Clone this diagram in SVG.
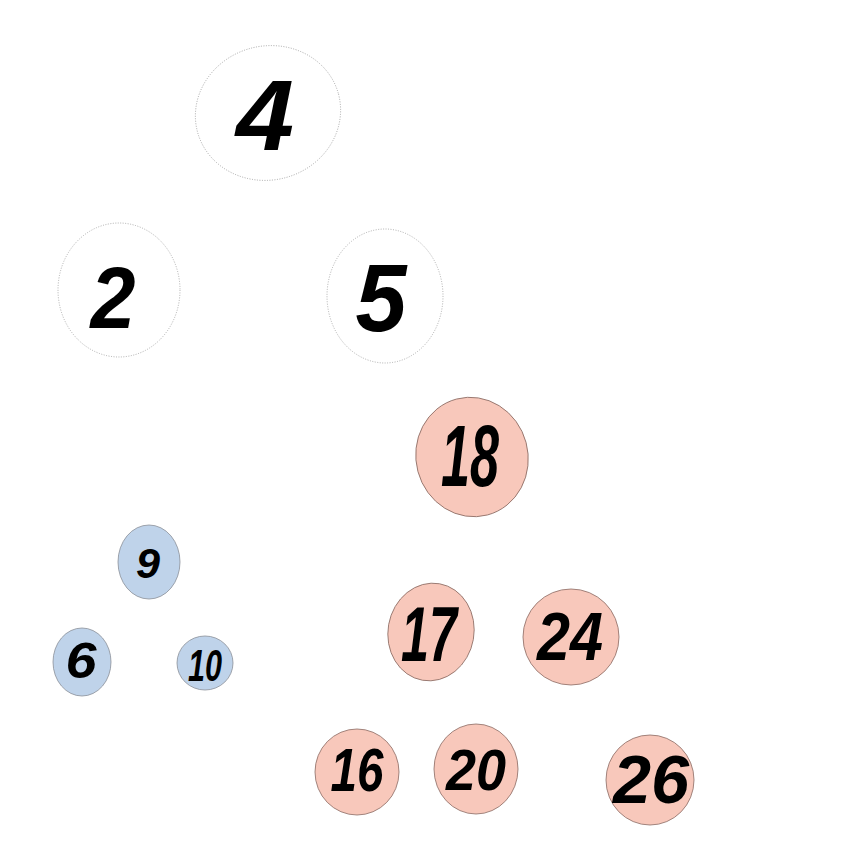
<svg xmlns="http://www.w3.org/2000/svg" width="861" height="846" viewBox="0 0 861 846">
<style>
text{font-family:"Liberation Sans","DejaVu Sans",sans-serif;font-weight:bold;font-style:italic;fill:#000;text-anchor:middle}
.w{fill:#fff;stroke:#9a9a9a;stroke-width:0.8;stroke-dasharray:1 1.5}
.p{fill:#f8c8bb;stroke:#8a6a62;stroke-width:0.8}
.b{fill:#bfd3ea;stroke:#8a8f98;stroke-width:0.8}
</style>
<rect width="861" height="846" fill="#fff"/>
<g id="connectors"/>
<g id="n4"><ellipse class="w" cx="268" cy="113" rx="73" ry="67" transform="rotate(-15 268 113)"/><text x="265" y="150" font-size="100" textLength="58" lengthAdjust="spacingAndGlyphs">4</text></g>
<g id="n2"><ellipse class="w" cx="119" cy="290" rx="61" ry="67"/><text x="113" y="328" font-size="88" textLength="45" lengthAdjust="spacingAndGlyphs">2</text></g>
<g id="n5"><ellipse class="w" cx="385" cy="296" rx="58" ry="67"/><text x="381" y="331" font-size="96" textLength="51" lengthAdjust="spacingAndGlyphs">5</text></g>
<g id="n18"><ellipse class="p" cx="472" cy="457" rx="56" ry="60" transform="rotate(-15 472 457)"/><text x="470" y="486" font-size="88" textLength="58" lengthAdjust="spacingAndGlyphs">18</text></g>
<g id="n9"><ellipse class="b" cx="149" cy="562" rx="31" ry="37"/><text x="148" y="578" font-size="42" textLength="24" lengthAdjust="spacingAndGlyphs">9</text></g>
<g id="n6"><ellipse class="b" cx="82" cy="662" rx="29" ry="34"/><text x="81" y="678" font-size="50" textLength="31" lengthAdjust="spacingAndGlyphs">6</text></g>
<g id="n10"><ellipse class="b" cx="205" cy="663" rx="28" ry="27"/><text x="205" y="681" font-size="44" textLength="34" lengthAdjust="spacingAndGlyphs">10</text></g>
<g id="n17"><ellipse class="p" cx="431" cy="632" rx="43" ry="49" transform="rotate(10 431 632)"/><text x="429" y="661" font-size="78" textLength="56" lengthAdjust="spacingAndGlyphs">17</text></g>
<g id="n24"><ellipse class="p" cx="571" cy="637" rx="48" ry="48"/><text x="570" y="660" font-size="68" textLength="66" lengthAdjust="spacingAndGlyphs">24</text></g>
<g id="n16"><ellipse class="p" cx="357" cy="772" rx="42" ry="43"/><text x="357" y="791" font-size="62" textLength="53" lengthAdjust="spacingAndGlyphs">16</text></g>
<g id="n20"><ellipse class="p" cx="476" cy="769" rx="42" ry="45"/><text x="476" y="790" font-size="57" textLength="60" lengthAdjust="spacingAndGlyphs">20</text></g>
<g id="n26"><ellipse class="p" cx="650" cy="780" rx="44" ry="45"/><text x="651" y="803" font-size="68" textLength="76" lengthAdjust="spacingAndGlyphs">26</text></g>
</svg>
